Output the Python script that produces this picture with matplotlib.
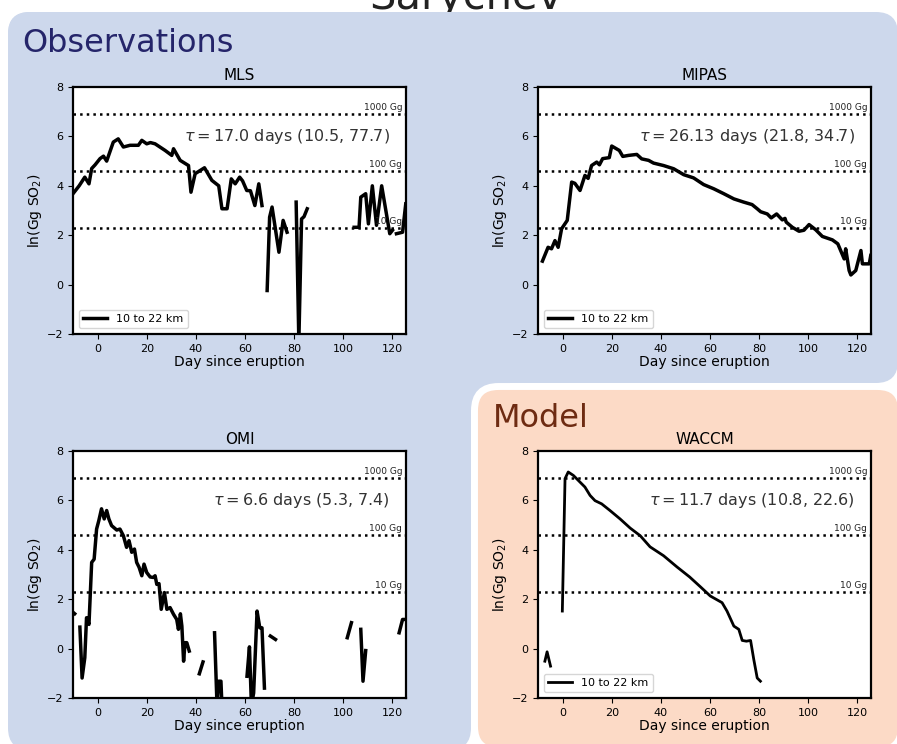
import numpy as np
import matplotlib
matplotlib.use("Agg")
import matplotlib.pyplot as plt
from matplotlib.patches import FancyBboxPatch, Rectangle

nan = np.nan

# ---- data ----
MLS_DAY = [-10, -7.5, -5.2, -3.5, -2.4, -1.0, 1.0, 2.4, 3.7, 5.1, 6.4, 8.4, 10.5, 13.2, 16.6, 18.0,
           20.0, 21.5, 23.4, 27.5, 30.2, 30.9, 33.6, 37.0, 38.0, 39.7, 43.5, 46.5, 49.3, 50.6, 52.7,
           54.4, 56.0, 57.8, 59.0, 60.7, 62.2, 64.0, 65.6, 66.9, nan, 69.0, 70.0, 71.0, 73.8, 75.5,
           77.1, nan, 80.8, 81.9, 83.0, 84.0, 85.3, nan, 104.4, 106.4, 107.1, 109.1, 110.2, 111.8,
           113.5, 115.6, 118.9, 120.0, nan, 121.6, 124.1, 125.4]
MLS_SO2 = [3.68, 4.0, 4.35, 4.08, 4.7, 4.85, 5.1, 5.2, 5.0, 5.4, 5.77, 5.9, 5.57, 5.64, 5.64, 5.84,
           5.7, 5.75, 5.7, 5.43, 5.23, 5.5, 5.03, 4.82, 3.74, 4.49, 4.73, 4.22, 4.0, 3.07, 3.07,
           4.28, 4.08, 4.35, 4.2, 3.81, 3.8, 3.2, 4.08, 3.2, nan, -0.24, 2.73, 3.14, 1.31, 2.6,
           2.12, nan, 3.34, -2.3, 2.66, 2.75, 3.07, nan, 2.32, 2.32, 3.54, 3.68, 2.46, 4.0,
           2.4, 4.0, 2.06, 2.2, nan, 2.06, 2.12, 3.27]

MIPAS_DAY = [-8.2, -5.9, -4.5, -3.1, -1.8, -0.4, 1.9, 3.7, 5.0, 7.1, 9.1, 10.4, 11.8, 13.9, 15.0,
             16.3, 19.0, 20.0, 23.1, 24.5, 26.8, 30.2, 32.2, 35.0, 37.0, 41.1, 45.2, 49.3, 53.3,
             57.4, 61.5, 65.6, 69.7, 73.7, 77.1, 79.2, 80.6, 83.3, 84.9, 87.1, 89.4, 90.5, 91.0,
             93.5, 96.2, 98.2, 100.3, 103.0, 105.7, 109.8, 112.0, 114.6, 115.2, 116.6, 117.3,
             119.3, 121.4, 122.0, 124.8, 125.4]
MIPAS_SO2 = [0.95, 1.51, 1.45, 1.78, 1.51, 2.26, 2.6, 4.15, 4.1, 3.81, 4.42, 4.3, 4.82, 4.96, 4.85,
             5.1, 5.14, 5.61, 5.43, 5.19, 5.23, 5.27, 5.09, 5.03, 4.92, 4.82, 4.69, 4.45, 4.32,
             4.05, 3.88, 3.68, 3.47, 3.34, 3.24, 3.07, 2.95, 2.86, 2.7, 2.86, 2.62, 2.68, 2.53,
             2.32, 2.16, 2.2, 2.43, 2.22, 1.95, 1.81, 1.65, 1.04, 1.45, 0.57, 0.39,
             0.57, 1.38, 0.84, 0.84, 1.18]

OMI_DAY = [-10.6, -9.3, nan, -7.2, -6.3, -5.2, -4.5, -3.5, -2.4, -1.4, -0.4, 0.5, 1.6, 2.7, 3.7,
           4.6, 5.7, 7.8, 9.1, 10.5, 11.8, 12.8, 13.9, 15.0, 15.9, 16.9, 18.0, 18.9, 20.0, 21.4,
           22.7, 23.4, 24.1, 25.0, 25.9, 27.2, 28.2, 29.5, 30.9, 32.2, 32.9, 33.7, 34.3, 35.0,
           35.6, 36.3, 37.3, nan, 41.4, 42.9, nan, 47.6, 48.6, 49.3, 50.2, 50.6, nan, 60.8, 61.8,
           62.6, 63.5, 64.9, 66.0, 66.9, 67.9, nan, 70.3, 72.4, nan, 101.6, 103.3, nan, 107.1,
           108.0, 109.1, nan, 122.7, 124.1, 125.0]
OMI_SO2 = [1.52, 1.41, nan, 0.87, -1.19, -0.37, 1.25, 0.98, 3.49, 3.62, 4.84, 5.18, 5.66, 5.25, 5.59,
           5.25, 4.98, 4.8, 4.84, 4.57, 4.1, 4.37, 3.9, 4.03, 3.49, 3.29, 2.95, 3.42, 3.08, 2.9,
           2.88, 2.95, 2.6, 2.63, 1.59, 2.27, 1.59, 1.66, 1.39, 1.18, 0.78, 1.41, 0.91, -0.51,
           0.24, 0.24, -0.1, nan, -1.02, -0.54, nan, 0.64, -2.3, -1.32, -1.32, -2.3, nan, -1.12, 0.07,
           -2.3, -1.8, 1.52, 0.84, 0.84, -1.6, nan, 0.51, 0.37, nan, 0.44, 1.05, nan, 0.78,
           -1.32, -0.08, nan, 0.64, 1.18, 1.18]

WACCM_DAY = [-7.2, -6.3, -4.9, nan, -0.1, 1.0, 2.3, 4.4, 7.1, 9.1, 11.2, 13.2, 15.9, 19.3, 23.4,
             27.5, 31.6, 35.6, 41.1, 46.5, 51.7, 56.1, 60.1, 64.9, 66.9, 69.7, 71.7, 73.1, 74.8,
             76.5, 77.8, 79.2, 80.5]
WACCM_SO2 = [-0.51, -0.13, -0.71, nan, 1.52, 6.88, 7.15, 7.01, 6.74, 6.54, 6.2, 5.99, 5.86, 5.59, 5.25,
             4.88, 4.57, 4.12, 3.76, 3.31, 2.9, 2.5, 2.13, 1.86, 1.52, 0.91, 0.78, 0.33, 0.3,
             0.33, -0.44, -1.19, -1.32]

TAU_TEXT = {"MLS": "17.0 days (10.5, 77.7)", "MIPAS": "26.13 days (21.8, 34.7)",
            "OMI": "6.6 days (5.3, 7.4)", "WACCM": "11.7 days (10.8, 22.6)"}
LEVELS_GG = [1000, 100, 10]
LEVEL_LABELS = ["1000 Gg", "100 Gg", "10 Gg"]

BLUE = "#cdd8ec"
PEACH = "#fcdac6"

fig = plt.figure(figsize=(8.97, 7.44), dpi=100)

# ---- background panels, in pixel coordinates ----
bg = fig.add_axes([0, 0, 1, 1], zorder=0)
bg.set_xlim(0, 897); bg.set_ylim(744, 0); bg.axis("off")
bg.text(466, 9, "Sarychev", fontsize=30, ha="center", va="baseline", color="#222222", zorder=0)
rs = "round,pad=0,rounding_size=22"
bg.add_patch(FancyBboxPatch((8, 12), 890, 371, boxstyle=rs, fc=BLUE, ec="none", zorder=1))
bg.add_patch(FancyBboxPatch((8, 12), 463, 738, boxstyle=rs, fc=BLUE, ec="none", zorder=1))
bg.add_patch(Rectangle((450, 370), 60, 40, fc=BLUE, ec="none", zorder=1))
bg.add_patch(FancyBboxPatch((474.5, 386.5), 427, 364, boxstyle="round,pad=0,rounding_size=24",
                            fc=PEACH, ec="white", lw=5, zorder=2))
bg.text(22, 52, "Observations", fontsize=23, color="#25256a", va="baseline", zorder=3)
bg.text(493, 427, "Model", fontsize=23, color="#6e2b12", va="baseline", zorder=3)


def panel(rect, name, day, so2, legend=True, lw=2.5):
    ax = fig.add_axes(rect, zorder=5)
    ax.plot(day, so2, color="black", lw=lw, label="10 to 22 km")
    for g, lab in zip(LEVELS_GG, LEVEL_LABELS):
        y = np.log(g)
        ax.axhline(y, color="black", ls=":", lw=1.8)
        ax.text(124, y + 0.06, lab, fontsize=6.5, ha="right", va="bottom", color="#222222")
    ax.text(119, 6.0, r"$\tau=$" + TAU_TEXT[name], fontsize=11.5, ha="right", va="center",
            color="#333333")
    ax.set_xlim(-10, 125.5); ax.set_ylim(-2, 8)
    ax.set_xticks(range(0, 121, 20)); ax.set_yticks(range(-2, 9, 2))
    ax.tick_params(labelsize=8)
    for s in ax.spines.values():
        s.set_linewidth(1.6)
    ax.set_title(name, fontsize=11, pad=5)
    ax.set_xlabel("Day since eruption", fontsize=10, labelpad=1)
    ax.set_ylabel(r"ln(Gg SO$_2$)", fontsize=10, labelpad=2)
    if legend:
        ax.legend(loc="lower left", fontsize=8, handlelength=2.2, borderpad=0.4)
    return ax


W, H = 333 / 897, 247 / 744
panel([73 / 897, 1 - 334 / 744, W, H], "MLS", MLS_DAY, MLS_SO2)
panel([538 / 897, 1 - 334 / 744, W, H], "MIPAS", MIPAS_DAY, MIPAS_SO2)
panel([73 / 897, 1 - 698 / 744, W, H], "OMI", OMI_DAY, OMI_SO2, legend=False)
panel([538 / 897, 1 - 698 / 744, W, H], "WACCM", WACCM_DAY, WACCM_SO2, lw=2.0)

fig.savefig("out.png", dpi=100)
